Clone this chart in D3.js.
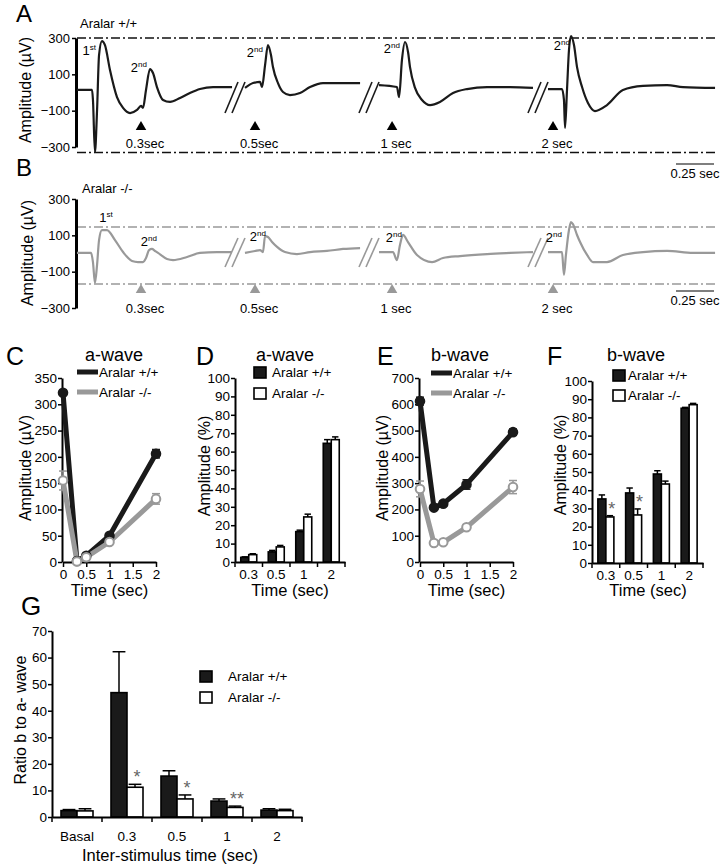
<!DOCTYPE html>
<html>
<head>
<meta charset="utf-8">
<script src="https://cdn.jsdelivr.net/npm/d3@7"></script>
<style>
  body { margin: 0; background: #fff; }
</style>
</head>
<body>
<script>
// ---------- data ----------
// ERG traces, [ms from segment start, amplitude µV]
const wtSeg1 = [[0,14],[99,14],[105,-41],[118,-328],[132,-96],[145,206],[164,283],[184,261],[217,124],[263,-25],[303,-85],[349,-113],[395,-96],[421,-74],[434,-85],[454,14],[480,129],[500,107],[526,30],[566,-41],[612,-52],[678,-30],[743,-3],[809,19],[895,30],[1020,30]];
const wtSeg2 = [[0,25],[53,52],[99,58],[112,30],[132,151],[151,261],[171,206],[184,140],[217,52],[250,3],[296,-14],[362,-3],[428,30],[513,52],[579,52],[757,52]];
const wtSeg3 = [[0,41],[118,30],[132,-25],[151,179],[171,278],[191,223],[204,140],[237,25],[283,-41],[336,-69],[401,-52],[487,-3],[579,19],[711,30],[862,30],[1013,25]];
const wtSeg4 = [[0,19],[92,19],[105,-41],[112,-195],[125,14],[138,234],[151,311],[171,261],[191,140],[224,30],[263,-58],[309,-102],[388,-69],[493,14],[625,36],[783,41],[888,30],[1099,25]];

const koSeg1 = [[0,3],[92,3],[105,-47],[118,-162],[132,-63],[145,74],[164,129],[197,129],[250,74],[303,8],[362,-41],[401,-47],[434,-47],[454,-25],[474,19],[493,25],[513,14],[533,3],[592,-30],[632,-36],[724,-19],[809,3],[921,8],[1020,8]];
const koSeg2 = [[0,3],[66,14],[99,19],[118,8],[132,96],[151,91],[178,63],[211,36],[263,8],[342,-3],[428,8],[539,14],[645,25],[757,30]];
const koSeg3 = [[0,8],[92,8],[118,-36],[138,47],[158,102],[191,63],[250,-8],[349,-47],[421,-25],[533,-14],[711,-3],[862,3],[1013,8]];
const koSeg4 = [[0,8],[92,8],[105,-118],[118,-8],[138,129],[151,173],[164,162],[191,102],[211,63],[257,-8],[296,-47],[388,-47],[493,-8],[625,8],[783,14],[954,3],[1099,3]];

const stimLabels = ["0.3sec", "0.5sec", "1 sec", "2 sec"];
const stimMs = [421, 66, 86, 33];
const ampTicks = [300, 100, -100, -300];
const wtLevels = [300, -330];
const koLevels = [146, -168];

// C / E: amplitude vs time
const timePts = [0, 0.3, 0.5, 1, 2];
const timeTicks = [0, 0.5, 1, 1.5, 2];
const aWaveWT = [322, 2, 12, 50, 206];
const aWaveWTErr = [5, 1, 1, 3, 8];
const aWaveKO = [155, 1, 9, 38, 120];
const aWaveKOErr = [18, 1, 1, 3, 10];
const bWaveWT = [612, 207, 222, 295, 494];
const bWaveWTErr = [15, 8, 10, 18, 12];
const bWaveKO = [278, 72, 75, 132, 285];
const bWaveKOErr = [30, 5, 5, 8, 25];

// D / F: amplitude %
const pctCats = ["0.3", "0.5", "1", "2"];
const aPctWT = [2.5, 5.5, 16.5, 64.5];
const aPctWTErr = [0.3, 0.8, 0.8, 2];
const aPctKO = [4, 8.2, 24.5, 66.5];
const aPctKOErr = [0.5, 0.8, 1.5, 1.5];
const bPctWT = [35.2, 38.5, 48.9, 85];
const bPctWTErr = [2.2, 2.7, 1.8, 0.5];
const bPctKO = [25.3, 26.4, 43.4, 87];
const bPctKOErr = [0.7, 3.3, 1.6, 0.7];
const bPctStars = ["*", "*", "", ""];

// G: ratio b to a
const ratioCats = ["Basal", "0.3", "0.5", "1", "2"];
const ratioWT = [2.4, 46.8, 15.4, 6, 2.6];
const ratioWTErr = [0.4, 15.4, 2, 0.8, 0.5];
const ratioKO = [2.3, 11.2, 6.8, 3.6, 2.4];
const ratioKOErr = [0.8, 1.1, 1.5, 0.5, 0.5];
const ratioStars = ["", "*", "*", "**", ""];

// ---------- setup ----------
const FONT = '"Liberation Sans", Arial, Helvetica, sans-serif';
const DARK = "#1a1a1a", GREY = "#999";
const svg = d3.select("body").append("svg")
  .attr("width", 723).attr("height", 866)
  .style("font-family", FONT);

function label(x, y, s, size, anchor = "start", fill = "#000") {
  return svg.append("text").attr("x", x).attr("y", y)
    .attr("font-size", size).attr("text-anchor", anchor).attr("fill", fill).text(s);
}
function vlabel(cx, cy, s, size) {
  svg.append("text").attr("transform", `translate(${cx},${cy}) rotate(-90)`)
    .attr("text-anchor", "middle").attr("dy", "0.35em").attr("font-size", size).text(s);
}
function styleAxis(g, sw, fs) {
  g.attr("font-family", FONT);
  g.select(".domain").attr("stroke", "#000").attr("stroke-width", sw);
  g.selectAll(".tick line").attr("stroke", "#000").attr("stroke-width", 1.5);
  g.selectAll(".tick text").attr("font-size", fs).attr("fill", "#000");
}
function ordinal(x, y, n, suf, anchor) {
  const t = svg.append("text").attr("x", x).attr("y", y)
    .attr("font-size", 13).attr("text-anchor", anchor);
  t.append("tspan").text(n);
  t.append("tspan").attr("dy", -5).attr("font-size", 8).text(suf);
}

// ---------- A / B traces ----------
const segX0 = [77, 245, 379, 548];
const pxPerSec = 152;

function tracePanel(cfg) {
  const y = d3.scaleLinear().domain([-300, 300]).range(cfg.yRange);
  const g = svg.append("g");

  cfg.levels.forEach(v => {
    g.append("line").attr("x1", 77).attr("x2", 718)
      .attr("y1", y(v)).attr("y2", y(v))
      .attr("stroke", cfg.dash).attr("stroke-width", 1.4)
      .attr("stroke-dasharray", "9,3,2,3");
  });

  const ax = g.append("g").attr("transform", "translate(76,0)")
    .call(d3.axisLeft(y).tickValues(ampTicks).tickSize(4).tickSizeOuter(0).tickPadding(2));
  styleAxis(ax, 3, 13);

  cfg.segments.forEach((seg, i) => {
    const x = d3.scaleLinear().domain([0, 1000]).range([segX0[i], segX0[i] + pxPerSec]);
    g.append("path").datum(seg)
      .attr("d", d3.line().x(d => x(d[0])).y(d => y(d[1])).curve(d3.curveMonotoneX))
      .attr("fill", "none").attr("stroke", cfg.color).attr("stroke-width", 2.2)
      .attr("stroke-linejoin", "round");

    const sx = x(stimMs[i]);
    g.append("path").attr("d", d3.symbol(d3.symbolTriangle, 48)())
      .attr("transform", `translate(${sx},${cfg.markY})`).attr("fill", cfg.mark);
    label(sx + 4, cfg.stimY, stimLabels[i], 13, "middle");

    if (i > 0) {
      const x0 = segX0[i];
      [[-20, -7], [-13, 0]].forEach(([a, b]) => {
        g.append("line").attr("x1", x0 + a).attr("y1", cfg.breakY[0])
          .attr("x2", x0 + b).attr("y2", cfg.breakY[1])
          .attr("stroke", cfg.color).attr("stroke-width", 1.6);
      });
    }
    ordinal(cfg.ordX[i], cfg.ordY[i], "2", "nd", "end");
  });

  // scale bar 0.25 sec
  const sb = d3.scaleLinear().domain([0, 1000]).range([0, pxPerSec]);
  g.append("line").attr("x1", 714 - sb(250)).attr("x2", 714)
    .attr("y1", cfg.barY).attr("y2", cfg.barY).attr("stroke", "#000").attr("stroke-width", 1.2);
  label(714 - sb(125), cfg.barY + 14, "0.25 sec", 13, "middle");
}

label(16, 22, "A", 24);
label(80, 28, "Aralar +/+", 13);
vlabel(25, 90, "Amplitude (\u00b5V)", 16);
tracePanel({
  yRange: [147, 38], levels: wtLevels, dash: "#111", color: DARK, mark: "#000",
  segments: [wtSeg1, wtSeg2, wtSeg3, wtSeg4], markY: 127, stimY: 148,
  breakY: [113, 82], ordX: [147, 263, 400, 570], ordY: [72, 57, 53, 50], barY: 164
});
ordinal(96, 55, "1", "st", "end");

label(16, 176, "B", 24);
label(82, 193, "Aralar -/-", 13);
vlabel(27, 253, "Amplitude (\u00b5V)", 16);
tracePanel({
  yRange: [308, 199], levels: koLevels, dash: GREY, color: GREY, mark: GREY,
  segments: [koSeg1, koSeg2, koSeg3, koSeg4], markY: 290, stimY: 313,
  breakY: [267, 238], ordX: [157, 266, 402, 562], ordY: [246, 241, 242, 242], barY: 291
});
ordinal(106, 222, "1", "st", "middle");

// ---------- C / E line panels ----------
function linePanel(cfg) {
  const x = d3.scaleLinear().domain([0, 2]).range(cfg.xr);
  const y = d3.scaleLinear().domain([0, cfg.ymax]).range(cfg.yr);
  const g = svg.append("g");

  const xa = g.append("g").attr("transform", `translate(0,${cfg.yr[0]})`)
    .call(d3.axisBottom(x).tickValues(timeTicks).tickFormat(d => String(d))
      .tickSize(5).tickSizeOuter(0).tickPadding(2));
  styleAxis(xa, 2, 13.5);
  const ya = g.append("g").attr("transform", `translate(${cfg.xr[0] - 1},0)`)
    .call(d3.axisLeft(y).tickValues(d3.range(0, cfg.ymax + 1, cfg.step))
      .tickSize(4).tickSizeOuter(0).tickPadding(1));
  styleAxis(ya, 2, 13.5);

  const line = d3.line().x((d, i) => x(timePts[i])).y(d => y(d));
  cfg.series.forEach(s => {
    g.append("path").datum(s.vals).attr("d", line)
      .attr("fill", "none").attr("stroke", s.color).attr("stroke-width", 5)
      .attr("stroke-linejoin", "round");
  });
  cfg.series.forEach(s => {
    s.vals.forEach((v, i) => {
      const cx = x(timePts[i]);
      const e = s.err[i];
      g.append("line").attr("x1", cx).attr("x2", cx)
        .attr("y1", y(v - e)).attr("y2", y(v + e)).attr("stroke", s.color).attr("stroke-width", 1.5);
      [v - e, v + e].forEach(w => g.append("line").attr("x1", cx - 4).attr("x2", cx + 4)
        .attr("y1", y(w)).attr("y2", y(w)).attr("stroke", s.color).attr("stroke-width", 1.5));
    });
    g.selectAll(null).data(s.vals).join("circle")
      .attr("cx", (d, i) => x(timePts[i])).attr("cy", d => y(d)).attr("r", 4.3)
      .attr("fill", s.fill).attr("stroke", s.color).attr("stroke-width", 2);
  });

  // legend
  cfg.series.forEach((s, k) => {
    const ly = cfg.legY + k * 20;
    g.append("line").attr("x1", cfg.legX).attr("x2", cfg.legX + 21)
      .attr("y1", ly).attr("y2", ly).attr("stroke", s.color).attr("stroke-width", 5);
    label(cfg.legX + 22, ly + 5, s.name, 13.5);
  });
  label(cfg.titleX, 361, cfg.title, 18, "middle");
  label((cfg.xr[0] + cfg.xr[1]) / 2, 596, "Time (sec)", 16.5, "middle");
  vlabel(cfg.ylabX, 468, "Amplitude (\u00b5V)", 16);
}

label(6, 365, "C", 25);
linePanel({
  xr: [63, 156], yr: [562, 378], ymax: 350, step: 50, titleX: 114, ylabX: 25,
  legX: 77, legY: 372, title: "a-wave",
  series: [
    { name: "Aralar +/+", vals: aWaveWT, err: aWaveWTErr, color: DARK, fill: DARK },
    { name: "Aralar -/-", vals: aWaveKO, err: aWaveKOErr, color: GREY, fill: "#fff" }
  ]
});

label(377, 365, "E", 25);
linePanel({
  xr: [420, 513], yr: [562, 378], ymax: 700, step: 100, titleX: 460, ylabX: 382,
  legX: 431, legY: 373, title: "b-wave",
  series: [
    { name: "Aralar +/+", vals: bWaveWT, err: bWaveWTErr, color: DARK, fill: DARK },
    { name: "Aralar -/-", vals: bWaveKO, err: bWaveKOErr, color: GREY, fill: "#fff" }
  ]
});

// ---------- bar panels (D, F, G) ----------
function barPanel(cfg) {
  const x = d3.scaleBand().domain(cfg.cats).range(cfg.xr);
  const y = d3.scaleLinear().domain([0, cfg.ymax]).range(cfg.yr);
  const g = svg.append("g");
  const bw = cfg.bw;

  cfg.series.forEach((s, k) => {
    const bx = i => x(cfg.cats[i]) + x.bandwidth() / 2 - bw + k * bw;
    g.selectAll(null).data(s.vals).join("rect")
      .attr("x", (d, i) => bx(i)).attr("y", d => y(d))
      .attr("width", bw).attr("height", d => y(0) - y(d))
      .attr("fill", s.fill).attr("stroke", "#000").attr("stroke-width", 1.6);
    s.vals.forEach((v, i) => {
      const cx = bx(i) + bw / 2;
      g.append("line").attr("x1", cx).attr("x2", cx).attr("y1", y(v)).attr("y2", y(v + s.err[i]))
        .attr("stroke", "#000").attr("stroke-width", 1.5);
      g.append("line").attr("x1", cx - bw * 0.4).attr("x2", cx + bw * 0.4)
        .attr("y1", y(v + s.err[i])).attr("y2", y(v + s.err[i]))
        .attr("stroke", "#000").attr("stroke-width", 1.5);
    });
  });

  if (cfg.stars) {
    const ko = cfg.series[1];
    cfg.stars.forEach((st, i) => {
      if (!st) return;
      const cx = x(cfg.cats[i]) + x.bandwidth() / 2 + bw / 2 + 2;
      label(cx, y(ko.vals[i] + ko.err[i]) - 1, st, 18, "middle", "#666");
    });
  }

  // axes
  const ya = g.append("g").attr("transform", `translate(${cfg.xr[0]},0)`)
    .call(d3.axisLeft(y).tickValues(d3.range(0, cfg.ymax + 1, cfg.step))
      .tickSize(4).tickSizeOuter(0).tickPadding(1));
  styleAxis(ya, 2, cfg.fs);
  const xa = g.append("g").attr("transform", `translate(0,${cfg.yr[0]})`)
    .call(d3.axisBottom(x).tickSize(0).tickPadding(cfg.pad));
  styleAxis(xa, 2, cfg.xfs);
  const bounds = cfg.cats.map(c => x(c)).concat([cfg.xr[1]]);
  bounds.forEach(b => g.append("line").attr("x1", b).attr("x2", b)
    .attr("y1", cfg.yr[0]).attr("y2", cfg.yr[0] + 5).attr("stroke", "#000").attr("stroke-width", 1.5));

  // legend
  cfg.series.forEach((s, k) => {
    const ly = cfg.legY + k * cfg.legGap;
    g.append("rect").attr("x", cfg.legX).attr("y", ly).attr("width", 12).attr("height", 11)
      .attr("fill", s.fill).attr("stroke", "#000").attr("stroke-width", 1.6);
    label(cfg.legX + cfg.legTx, ly + 10, s.name, 13.5);
  });
}

label(196, 365, "D", 25);
label(285, 361, "a-wave", 18, "middle");
barPanel({
  cats: pctCats, xr: [235, 345], yr: [562, 378], ymax: 100, step: 10, bw: 8, fs: 13.5, xfs: 13.5, pad: 7,
  legX: 254, legY: 367, legGap: 21, legTx: 18,
  series: [
    { name: "Aralar +/+", vals: aPctWT, err: aPctWTErr, fill: DARK },
    { name: "Aralar -/-", vals: aPctKO, err: aPctKOErr, fill: "#fff" }
  ]
});
label(290, 596, "Time (sec)", 16.5, "middle");
vlabel(204, 466, "Amplitude (%)", 16);

label(547, 365, "F", 25);
label(636, 361, "b-wave", 18, "middle");
barPanel({
  cats: pctCats, xr: [592, 703], yr: [563, 381], ymax: 100, step: 10, bw: 8, fs: 13.5, xfs: 13.5, pad: 7,
  legX: 613, legY: 370, legGap: 20, legTx: 15, stars: bPctStars,
  series: [
    { name: "Aralar +/+", vals: bPctWT, err: bPctWTErr, fill: DARK },
    { name: "Aralar -/-", vals: bPctKO, err: bPctKOErr, fill: "#fff" }
  ]
});
label(648, 596, "Time (sec)", 16.5, "middle");
vlabel(560, 465, "Amplitude (%)", 16);

label(21, 615, "G", 26);
barPanel({
  cats: ratioCats, xr: [52, 302], yr: [817, 631], ymax: 70, step: 10, bw: 16, fs: 13.5, xfs: 13.5, pad: 14,
  legX: 200, legY: 671, legGap: 21, legTx: 28, stars: ratioStars,
  series: [
    { name: "Aralar +/+", vals: ratioWT, err: ratioWTErr, fill: DARK },
    { name: "Aralar -/-", vals: ratioKO, err: ratioKOErr, fill: "#fff" }
  ]
});
label(170, 861, "Inter-stimulus time (sec)", 16.5, "middle");
vlabel(20, 720, "Ratio b to a- wave", 16);
</script>
</body>
</html>
